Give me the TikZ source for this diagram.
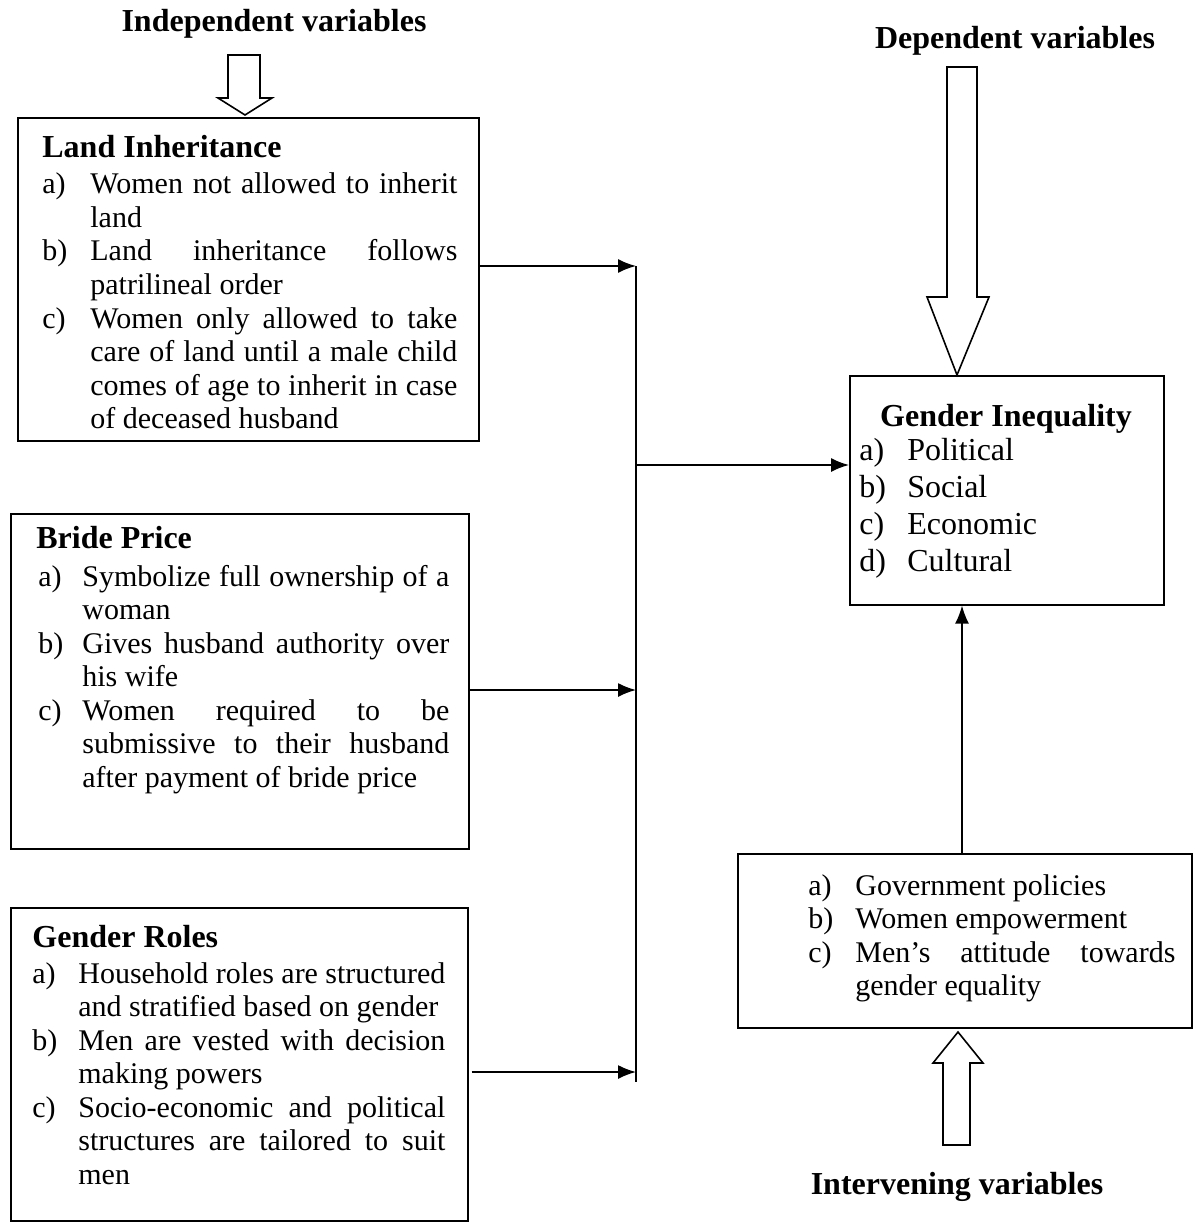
\documentclass[tikz,border=0pt]{standalone}
\usepackage{fontspec}
\setmainfont{Liberation Serif}
\usetikzlibrary{arrows.meta}
\newlength{\itmind}
\newcommand{\vitem}[2]{\hangindent=\itmind\hangafter=1\noindent\hbox to\itmind{#1\hss}#2\par}
\hbadness=10000
\begin{document}
\begin{tikzpicture}[x=0.5pt,y=-0.5pt,
    box/.style={draw, line width=0.8pt, inner sep=0pt, anchor=north west},
    title/.style={font=\fontsize{16}{19}\selectfont\bfseries, inner sep=0pt, anchor=base},
    heading/.style={font=\fontsize{16}{19}\selectfont\bfseries, inner sep=0pt, anchor=base west},
    itemlist/.style={font=\fontsize{15}{16.75}\selectfont, inner sep=0pt, anchor=base west, align=justify},
    arr/.style={line width=0.8pt, -{Latex[length=9pt,width=7pt]}},
    hollow/.style={draw, line width=0.8pt, fill=white, line join=miter}]
  \useasboundingbox (0,0) rectangle (1193,1225);

  % boxes
  \node[box, minimum width=230.5pt, minimum height=161.5pt] (land) at (17,117) {};
  \node[box, minimum width=229pt, minimum height=167.5pt] (bride) at (10,513) {};
  \node[box, minimum width=228.5pt, minimum height=156.5pt] (roles) at (10,907) {};
  \node[box, minimum width=157pt, minimum height=114.5pt] (ineq) at (849,375) {};
  \node[box, minimum width=227pt, minimum height=87pt] (interv) at (737,853) {};

  % titles
  \node[title] (indep) at (274,32) {Independent variables};
  \node[title] (dep) at (1015,49) {Dependent variables};
  \node[title] (inter) at (957,1194) {Intervening variables};

  % land inheritance
  \node[heading] (landhd) at (42,158) {Land Inheritance};
  \node[itemlist, text width=207.5pt] (landtx) at (42,194) {\setlength{\itmind}{24pt}%
    \vitem{a)}{Women not allowed to inherit\linebreak land}%
    \vitem{b)}{Land inheritance follows\linebreak patrilineal order}%
    \vitem{c)}{Women only allowed to take\linebreak care of land until a male child\linebreak comes of age to inherit in case\linebreak of deceased husband}};

  % bride price
  \node[heading] (bridehd) at (36,548) {Bride Price};
  \node[itemlist, text width=205.5pt] (bridetx) at (38,586) {\setlength{\itmind}{22pt}%
    \vitem{a)}{Symbolize full ownership of a\linebreak woman}%
    \vitem{b)}{Gives husband authority over\linebreak his wife}%
    \vitem{c)}{Women required to be\linebreak submissive to their husband\linebreak after payment of bride price}};

  % gender roles
  \node[heading] (roleshd) at (32,947) {Gender Roles};
  \node[itemlist, text width=206.5pt] (rolestx) at (32,983) {\setlength{\itmind}{23pt}%
    \vitem{a)}{Household roles are structured\linebreak and stratified based on gender}%
    \vitem{b)}{Men are vested with decision\linebreak making powers}%
    \vitem{c)}{Socio-economic and political\linebreak structures are tailored to suit\linebreak men}};

  % gender inequality
  \node[title] (ineqhd) at (1006,426) {Gender Inequality};
  \node[itemlist, font=\fontsize{16}{18.5}\selectfont, text width=140pt, align=left] (ineqtx) at (859,460) {\setlength{\itmind}{24pt}%
    \vitem{a)}{Political}\vitem{b)}{Social}\vitem{c)}{Economic}\vitem{d)}{Cultural}};

  % intervening
  \node[itemlist, text width=183.5pt] (intervtx) at (808,895) {\setlength{\itmind}{23.5pt}%
    \vitem{a)}{Government policies}%
    \vitem{b)}{Women empowerment}%
    \vitem{c)}{Men’s attitude towards\linebreak gender equality}};

  % hollow arrows
  \draw[hollow] (228,55) -- (260,55) -- (260,98) -- (272,98) -- (245,115) -- (218,98) -- (228,98) -- cycle;
  \draw[hollow] (947,67) -- (977,67) -- (977,297) -- (989,297) -- (957,375) -- (927,297) -- (947,297) -- cycle;
  \draw[hollow] (943,1145) -- (970,1145) -- (970,1063) -- (983,1063) -- (958,1032) -- (933,1063) -- (943,1063) -- cycle;

  % connectors
  \coordinate (bustop) at (636,266);
  \coordinate (busbot) at (636,1082);
  \coordinate (busbride) at (636,690);
  \coordinate (busroles) at (636,1072);
  \coordinate (busineq) at (636,465);
  \coordinate (upx) at (962,700);
  \draw[line width=0.8pt] (bustop) -- (busbot);
  \draw[arr] (land.east |- bustop) -- (bustop);
  \draw[arr] (bride.east |- busbride) -- (busbride);
  \draw[arr] ([xshift=1.5pt]roles.east |- busroles) -- (busroles);
  \draw[arr] (busineq) -- (ineq.west |- busineq);
  \draw[arr] (interv.north -| upx) -- (ineq.south -| upx);
\end{tikzpicture}
\end{document}
